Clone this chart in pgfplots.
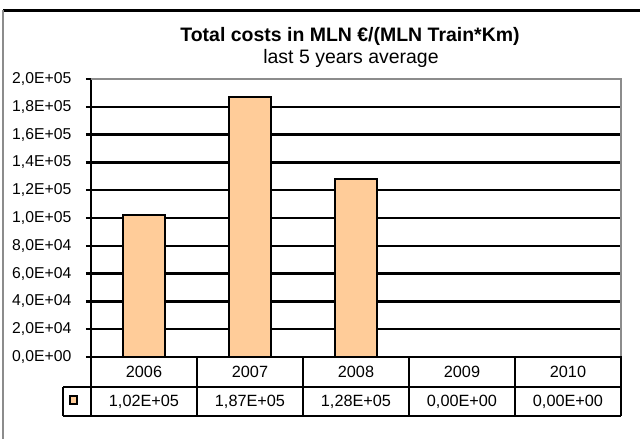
\documentclass[border=0pt]{standalone}
\usepackage{pgfplots}
\pgfplotsset{compat=1.18}
\usepackage{fontspec}
\setmainfont{Liberation Sans}
\definecolor{barfill}{HTML}{FFCC99}
\definecolor{framegray}{HTML}{8C8C8C}
\begin{document}
\begin{tikzpicture}[x=0.75pt,y=-0.75pt]
\useasboundingbox (0,0) rectangle (640,439);
% outer frame
\draw[black, line width=2.25pt] (3,10) -- (640,10);
\draw[framegray, line width=1.2pt] (3,10) -- (3,439);
% titles
\node[anchor=base, font=\fontsize{14.6}{16}\selectfont\bfseries] at (350,41) {Total costs in MLN €/(MLN Train*Km)};
\node[anchor=base, font=\fontsize{14.6}{16}\selectfont] at (351,63) {last 5 years average};
\begin{axis}[
  at={(68.25pt,-267.75pt)}, anchor=south west,
  scale only axis, width=397.5pt, height=208.5pt,
  xmin=-0.5, xmax=4.5, ymin=0, ymax=200000,
  axis x line*=bottom, axis y line*=left,
  axis line style={black, line width=1.8pt, -},
  xtick=\empty,
  ytick={0,20000,40000,60000,80000,100000,120000,140000,160000,180000,200000},
  yticklabels={{0,0E+00},{2,0E+04},{4,0E+04},{6,0E+04},{8,0E+04},{1,0E+05},{1,2E+05},{1,4E+05},{1,6E+05},{1,8E+05},{2,0E+05}},
  yticklabel style={font=\fontsize{11.8}{13}\selectfont, xshift=-7.5pt},
  tick align=outside, major tick length=3.75pt,
  ytick style={black, line width=1.8pt},
  ymajorgrids, major grid style={black, line width=1.8pt},
  scaled y ticks=false,
  clip=false,
]
\addplot[ybar, bar width=31.5pt, fill=barfill, draw=black, line width=1.8pt]
  coordinates {(0,102000) (1,187000) (2,128000) (3,0) (4,0)};
\draw[framegray, line width=1.5pt] (rel axis cs:0,1) -- (rel axis cs:1,1) -- (rel axis cs:1,0);
\end{axis}
% data table
\begin{scope}[line width=2pt, black]
\draw (91,357) -- (621,357);
\draw (63,387) -- (621,387);
\draw (63,416) -- (621,416);
\draw (63,387) -- (63,416);
\foreach \xx in {91,197,303,409,515,621} {\draw (\xx,356) -- (\xx,416);}
\end{scope}
\draw[fill=barfill, draw=black, line width=1.6pt] (70,396) rectangle (77,404);
\foreach \xx/\yr/\val in {144/2006/{1,02E+05}, 250/2007/{1,87E+05}, 356/2008/{1,28E+05}, 462/2009/{0,00E+00}, 568/2010/{0,00E+00}} {
  \node[font=\fontsize{12.2}{14}\selectfont] at (\xx,372) {\yr};
  \node[font=\fontsize{12.2}{14}\selectfont] at (\xx,401.5) {\val};
}
\end{tikzpicture}
\end{document}
